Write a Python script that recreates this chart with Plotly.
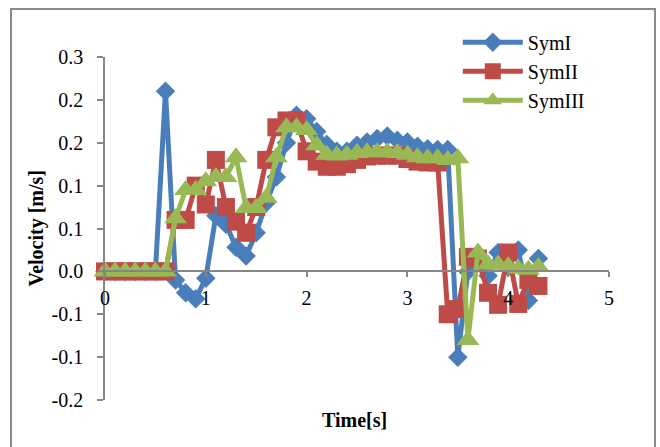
import plotly.graph_objects as go

time_s = [0.0, 0.1, 0.2, 0.3, 0.4, 0.5, 0.6, 0.7, 0.8, 0.9,
          1.0, 1.1, 1.2, 1.3, 1.4, 1.5, 1.6, 1.7, 1.8, 1.9,
          2.0, 2.1, 2.2, 2.3, 2.4, 2.5, 2.6, 2.7, 2.8, 2.9,
          3.0, 3.1, 3.2, 3.3, 3.4, 3.5, 3.6, 3.7, 3.8, 3.9,
          4.0, 4.1, 4.2, 4.3]

sym1 = [0, 0, 0, 0, 0, 0, 0.21, -0.01, -0.025, -0.032,
        -0.008, 0.065, 0.055, 0.028, 0.018, 0.045, 0.08, 0.11, 0.15, 0.182,
        0.178, 0.163, 0.148, 0.14, 0.14, 0.147, 0.151, 0.155, 0.158, 0.153,
        0.151, 0.146, 0.143, 0.142, 0.142, -0.10, 0.0, 0.012, -0.005, 0.022,
        0.005, 0.025, -0.034, 0.015]

sym2 = [0, 0, 0, 0, 0, 0, 0, 0.06, 0.06, 0.10,
        0.078, 0.13, 0.075, 0.058, 0.045, 0.075, 0.13, 0.168, 0.176, 0.176,
        0.14, 0.128, 0.122, 0.122, 0.125, 0.13, 0.134, 0.135, 0.135, 0.135,
        0.131, 0.128, 0.127, 0.127, -0.05, -0.044, 0.017, 0.015, -0.025, -0.039,
        0.022, -0.038, -0.01, -0.017]

sym3 = [0, 0, 0, 0, 0, 0, 0, 0.062, 0.095, 0.095,
        0.105, 0.11, 0.11, 0.133, 0.074, 0.074, 0.086, 0.133, 0.168, 0.168,
        0.165, 0.147, 0.136, 0.135, 0.136, 0.138, 0.139, 0.139, 0.139, 0.138,
        0.136, 0.133, 0.132, 0.132, 0.13, 0.132, -0.08, 0.022, 0.008, 0.008,
        0.006, 0.003, 0.002, 0.005]

series_names = ["SymI", "SymII", "SymIII"]
y_tickvals = [-0.15, -0.1, -0.05, 0.0, 0.05, 0.1, 0.15, 0.2, 0.25]
y_ticktext = ["-0.2", "-0.1", "-0.1", "0.0", "0.1", "0.1", "0.2", "0.2", "0.3"]
x_tickvals = [0, 1, 2, 3, 4, 5]

colors = ["#4A7EBB", "#BE4B48", "#98B954"]
symbols = ["diamond", "square", "triangle-up"]
sizes = [15, 18, 20]

FONT = "Liberation Serif, Times New Roman, serif"

fig = go.Figure()
for name, ys, c, s, sz in zip(series_names, [sym1, sym2, sym3], colors, symbols, sizes):
    fig.add_trace(go.Scatter(
        x=time_s, y=ys, name=name, mode="lines+markers",
        line=dict(color=c, width=5),
        marker=dict(symbol=s, size=sz, color=c, line=dict(width=0)),
        cliponaxis=False,
    ))

fig.update_layout(
    width=660, height=447,
    margin=dict(l=105, r=51, t=57, b=47),
    paper_bgcolor="white", plot_bgcolor="white",
    font=dict(family=FONT, size=20, color="black"),
    showlegend=True,
    legend=dict(x=0.70, y=1.10, xanchor="left", yanchor="top",
                bgcolor="rgba(0,0,0,0)", font=dict(size=20, family=FONT),
                itemwidth=60, tracegroupgap=0),
    xaxis=dict(range=[0, 5], tickvals=x_tickvals, showgrid=False, zeroline=False,
               showline=True, linecolor="#868686", linewidth=1.5,
               ticks="outside", ticklen=5, tickcolor="#868686", tickwidth=1.5,
               anchor="free", position=0.375, ticklabelstandoff=4,
               tickfont=dict(size=20, family=FONT)),
    yaxis=dict(range=[-0.15, 0.25], tickvals=y_tickvals, ticktext=y_ticktext,
               showgrid=False, zeroline=False,
               showline=True, linecolor="#868686", linewidth=1.5,
               ticks="outside", ticklen=6, tickcolor="#868686", tickwidth=1.5,
               ticklabelstandoff=10, tickfont=dict(size=20, family=FONT)),
    annotations=[
        dict(text="<b>Velocity [m/s]</b>", x=-0.135, y=0.50, xref="paper", yref="paper",
             textangle=-90, showarrow=False, font=dict(size=20, family=FONT),
             xanchor="center", yanchor="middle"),
        dict(text="<b>Time[s]</b>", x=0.496, y=-0.058, xref="paper", yref="paper",
             showarrow=False, font=dict(size=20, family=FONT),
             xanchor="center", yanchor="middle"),
    ],
    shapes=[dict(type="rect", xref="paper", yref="paper",
                 x0=-0.1865, x1=1.0913, y0=-0.16, y1=1.14,
                 line=dict(color="#8A8A8A", width=2), fillcolor="rgba(0,0,0,0)",
                 layer="below")],
)

fig.write_html("out.html")
